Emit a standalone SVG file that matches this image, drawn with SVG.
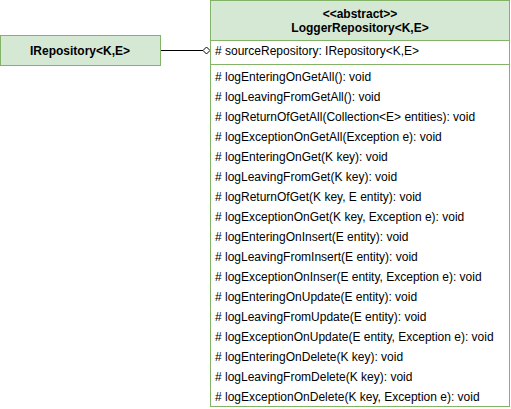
<svg xmlns="http://www.w3.org/2000/svg" width="511" height="409" viewBox="0 0 511 409">
<style>
.box{fill:#d5e8d4;stroke:#82b366;stroke-width:1}
.t{font-family:"Liberation Sans",Arial,sans-serif;font-size:12px;fill:#000}
.b{font-weight:bold;text-anchor:middle}
</style>
<rect width="511" height="409" fill="#fff"/>
<g id="connectors">
<line x1="160.5" y1="50.5" x2="203" y2="50.5" stroke="#000" stroke-width="1"/>
<path d="M203,50.5 L206.5,47 L210,50.5 L206.5,54 Z" fill="#fff" stroke="#000" stroke-width="1"/>
</g>
<g id="IRepository">
<rect class="box" x="0.5" y="35.5" width="160" height="30"/>
<text class="t b" x="80" y="54.5">IRepository&lt;K,E&gt;</text>
</g>
<g id="LoggerRepository">
<rect x="210.5" y="0.5" width="299" height="406" fill="#fff" stroke="#82b366"/>
<rect class="box" x="210.5" y="0.5" width="299" height="40"/>
<line x1="210.5" y1="64.5" x2="509.5" y2="64.5" stroke="#82b366"/>
<text class="t b" x="360" y="18">&lt;&lt;abstract&gt;&gt;</text>
<text class="t b" x="360" y="32">LoggerRepository&lt;K,E&gt;</text>
<text class="t" x="215" y="54.5"># sourceRepository: IRepository&lt;K,E&gt;</text>
<text class="t" x="215" y="81"># logEnteringOnGetAll(): void</text>
<text class="t" x="215" y="101"># logLeavingFromGetAll(): void</text>
<text class="t" x="215" y="121"># logReturnOfGetAll(Collection&lt;E&gt; entities): void</text>
<text class="t" x="215" y="141"># logExceptionOnGetAll(Exception e): void</text>
<text class="t" x="215" y="161"># logEnteringOnGet(K key): void</text>
<text class="t" x="215" y="181"># logLeavingFromGet(K key): void</text>
<text class="t" x="215" y="201"># logReturnOfGet(K key, E entity): void</text>
<text class="t" x="215" y="221"># logExceptionOnGet(K key, Exception e): void</text>
<text class="t" x="215" y="241"># logEnteringOnInsert(E entity): void</text>
<text class="t" x="215" y="261"># logLeavingFromInsert(E entity): void</text>
<text class="t" x="215" y="281"># logExceptionOnInser(E entity, Exception e): void</text>
<text class="t" x="215" y="301"># logEnteringOnUpdate(E entity): void</text>
<text class="t" x="215" y="321"># logLeavingFromUpdate(E entity): void</text>
<text class="t" x="215" y="341"># logExceptionOnUpdate(E entity, Exception e): void</text>
<text class="t" x="215" y="361"># logEnteringOnDelete(K key): void</text>
<text class="t" x="215" y="381"># logLeavingFromDelete(K key): void</text>
<text class="t" x="215" y="401"># logExceptionOnDelete(K key, Exception e): void</text>
</g>
</svg>
